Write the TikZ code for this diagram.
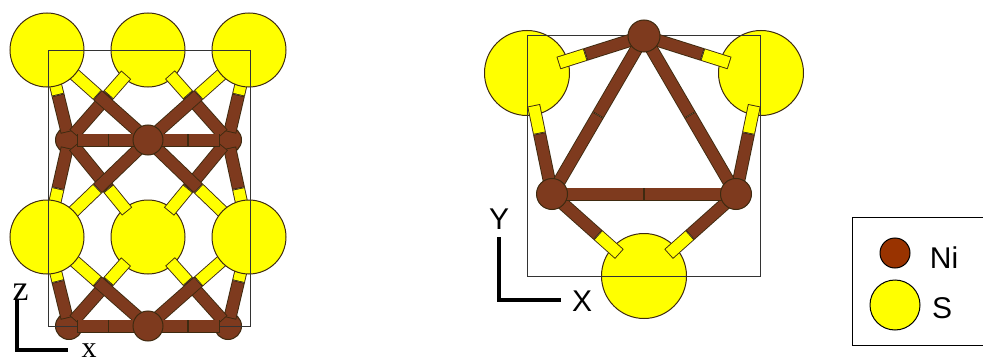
\documentclass[tikz,border=0pt]{standalone}
\usepackage{fontspec}
\setmainfont{Liberation Sans}
\newfontfamily\axisserif{Liberation Serif}
\usetikzlibrary{calc}
\definecolor{nibrown}{HTML}{7E3A1E}
\definecolor{keybrown}{HTML}{993300}
\definecolor{syellow}{HTML}{FFFF00}
\definecolor{rim}{HTML}{3E2A10}
\pgfdeclarelayer{back}
\pgfdeclarelayer{upper}
\pgfdeclarelayer{front}
\pgfsetlayers{back,main,upper,front}
\tikzset{
  atom/.style={circle,draw=rim,line width=1pt,inner sep=0pt},
  ni/.style={atom,fill=nibrown,minimum size=27pt},
  nibig/.style={atom,fill=nibrown,minimum size=30pt},
  sl/.style={atom,fill=syellow,minimum size=74pt},
  sr/.style={atom,fill=syellow,minimum size=85pt},
  cell/.style={draw=black!80,line width=1pt,inner sep=0pt},
  axisline/.style={line width=3.4pt,line cap=butt,line join=miter},
  stickrim/.style={draw=rim,line width=#1},
  stickfill/.style={line width=#1,shorten >=0.9pt,shorten <=0.9pt},
  lab/.style={inner sep=0pt,font=\fontsize{30}{30}\selectfont},
  serif/.style={inner sep=0pt,font=\fontsize{#1}{#1}\selectfont\axisserif},
}
% one outlined piece of a stick: ends, colour
\newcommand{\stick}[3]{%
  \draw[stickrim=13pt] (#1) -- (#2);
  \draw[stickfill=11.2pt,draw=#3] (#1) -- (#2);
}
% Ni-S stick, half brown and half yellow
\newcommand{\nisbond}[2]{%
  \coordinate (mid) at ($(#1)!0.5!(#2)$);
  \coordinate (sgap) at ($(#2)!33pt!(#1)$);
  \coordinate (nigap) at ($(#1)!8pt!(#2)$);
  \stick{sgap}{mid}{syellow}
  \stick{nigap}{mid}{nibrown}
}
% Ni-Ni stick, two brown halves
\newcommand{\ninibond}[2]{%
  \coordinate (mid) at ($(#1)!0.5!(#2)$);
  \coordinate (agap) at ($(#1)!8pt!(#2)$);
  \coordinate (bgap) at ($(#2)!8pt!(#1)$);
  \stick{agap}{mid}{nibrown}
  \stick{bgap}{mid}{nibrown}
}

\begin{document}
\begin{tikzpicture}[x=1pt,y=-1pt]
  \useasboundingbox (0,0) rectangle (983,361);

  % left view
  \begin{pgfonlayer}{back}
    \node[sl] (s2) at (148,50) {};
    \node[sl] (s5) at (148,237) {};
    \node[ni] (n1) at (69,140) {};
    \node[ni] (n3) at (228,140) {};
    \node[ni] (n4) at (69,326) {};
    \node[ni] (n6) at (228,326) {};
  \end{pgfonlayer}
  \begin{pgfonlayer}{upper}
    \node[sl] (s1) at (47,50) {};
    \node[sl] (s3) at (249,50) {};
    \node[sl] (s4) at (47,237) {};
    \node[sl] (s6) at (249,237) {};
    \node[cell,minimum width=202pt,minimum height=275pt] (cellxz) at (149,188.5) {};
  \end{pgfonlayer}
  \begin{pgfonlayer}{front}
    \node[nibig] (n2) at (148,140) {};
    \node[nibig] (n5) at (148,326) {};
  \end{pgfonlayer}

  \foreach \a/\b in {n1/s1,n1/s2,n3/s3,n3/s2,n1/s4,n1/s5,n3/s6,n3/s5,n4/s4,n4/s5,n6/s6,n6/s5} { \nisbond{\a}{\b} }
  \foreach \a/\b in {n2/s1,n2/s3,n2/s4,n2/s6,n5/s4,n5/s6} { \nisbond{\a}{\b} }
  \begin{pgfonlayer}{upper}
    \foreach \a/\b in {n1/n2,n3/n2,n4/n5,n6/n5} { \ninibond{\a}{\b} }
  \end{pgfonlayer}

  \coordinate (zend) at (17,300);
  \coordinate (zo) at (17,350);
  \coordinate (xend) at (68,350);
  \draw[axisline] (zend) -- (zo) -- (xend);
  \node[serif=36] (zlab) at (20.5,292) {z};
  \node[serif=30] (xlab) at (89,351) {x};

  % right view
  \node[sr] (sa) at (527,73) {};
  \node[sr] (sb) at (761,73) {};
  \node[sr] (sc) at (644,276) {};
  \node[cell,minimum width=233pt,minimum height=240pt] (cellxy) at (643.5,156) {};
  \begin{pgfonlayer}{front}
    \node[nibig,minimum size=32pt] (na) at (644,36) {};
    \node[nibig,minimum size=31pt] (nb) at (552,194) {};
    \node[nibig,minimum size=31pt] (nc) at (736,194) {};
  \end{pgfonlayer}
  \foreach \a/\b in {na/sa,na/sb,nb/sa,nc/sb,nb/sc,nc/sc} { \nisbond{\a}{\b} }
  \foreach \a/\b in {na/nb,na/nc,nb/nc} { \ninibond{\a}{\b} }

  \coordinate (yend) at (499,237);
  \coordinate (yo) at (499,300);
  \coordinate (xxend) at (561,300);
  \draw[axisline] (yend) -- (yo) -- (xxend);
  \node[lab] (ylab) at (499,219) {Y};
  \node[lab] (xxlab) at (582,301) {X};

  % key
  \node[cell,draw=black,line width=1.2pt,minimum width=145pt,minimum height=128pt,anchor=north west] (keybox) at (852,217) {};
  \node[atom,draw=black,fill=keybrown,minimum size=30pt] (keyni) at (895,253) {};
  \node[atom,draw=black,fill=syellow,minimum size=50pt] (keys) at (895,305) {};
  \node[lab] (keynilab) at (944,258) {Ni};
  \node[lab] (keyslab) at (942,308) {S};
\end{tikzpicture}
\end{document}
